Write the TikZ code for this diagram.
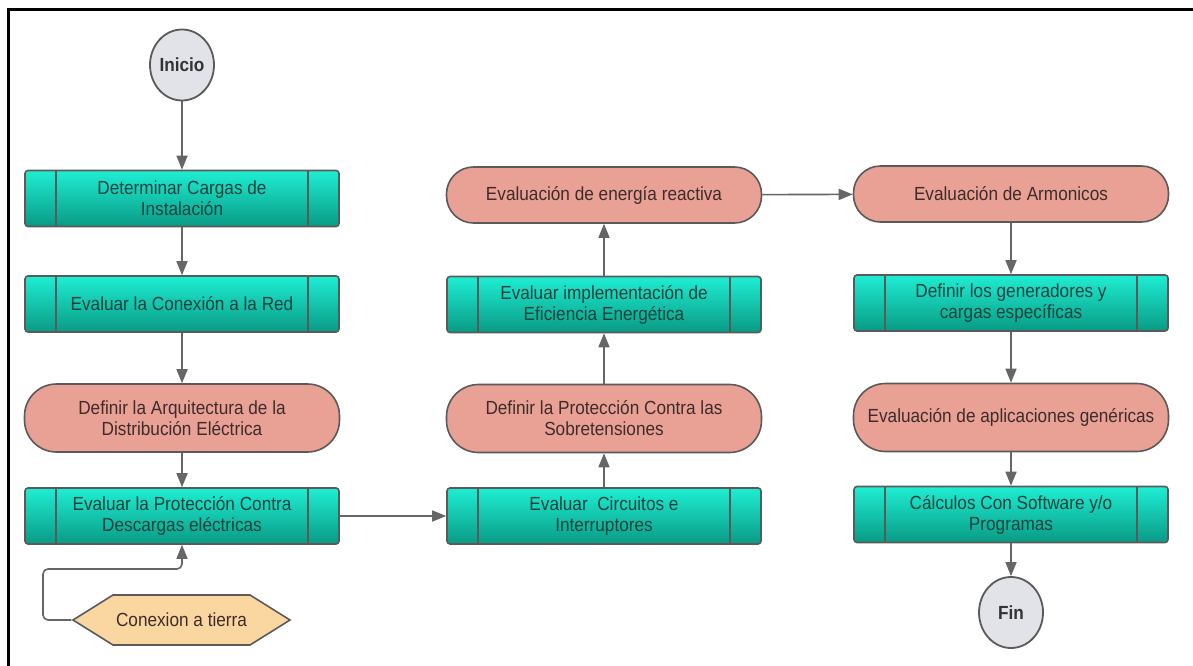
\documentclass[tikz,border=0pt]{standalone}
\usepackage{fontspec}
\setmainfont[FakeStretch=0.905]{Liberation Sans}
\usetikzlibrary{arrows.meta,shapes.geometric,shapes.symbols,calc}
\definecolor{bordercol}{HTML}{5A5A5A}
\definecolor{linecol}{HTML}{666666}
\definecolor{tealtop}{HTML}{1EEED3}
\definecolor{tealbot}{HTML}{099A84}
\definecolor{tealtext}{HTML}{16433E}
\definecolor{salmon}{HTML}{E9A196}
\definecolor{salmontext}{HTML}{3E2C2A}
\definecolor{hexfill}{HTML}{FAD6A0}
\definecolor{circfill}{HTML}{E1E3E9}
\tikzset{
  txt/.style={font=\fontsize{19}{21}\selectfont, align=center, inner sep=0pt},
  procbox/.style={txt, draw=bordercol, line width=1.6pt, rounded corners=3pt,
    top color=tealtop, bottom color=tealbot, text=tealtext,
    minimum width=314pt, minimum height=56pt,
    path picture={
      \draw[bordercol, line width=1.4pt]
        ([xshift=31pt]path picture bounding box.north west) -- ([xshift=31pt]path picture bounding box.south west)
        ([xshift=-31pt]path picture bounding box.north east) -- ([xshift=-31pt]path picture bounding box.south east);}},
  pilltall/.style={txt, draw=bordercol, line width=1.6pt, fill=salmon, text=salmontext,
    rounded corners=32pt, minimum width=315pt, minimum height=68pt},
  pillshort/.style={txt, draw=bordercol, line width=1.6pt, fill=salmon, text=salmontext,
    rounded corners=27pt, minimum width=315pt, minimum height=56pt},
  termcirc/.style={txt, ellipse, draw=bordercol, line width=1.8pt, fill=circfill,
    minimum width=64pt, minimum height=71pt, font=\fontsize{19}{21}\selectfont\bfseries, text=black!80},
  hexnode/.style={txt, shape=signal, signal to=west and east, signal pointer angle=64,
    draw=bordercol, line width=1.6pt, fill=hexfill, text=salmontext,
    minimum width=217pt, minimum height=50pt},
  conn/.style={draw=linecol, line width=1.6pt, -{Triangle[length=14pt,width=11pt]}},
}
\begin{document}
\begin{tikzpicture}[x=1pt,y=-1pt]
\useasboundingbox (0,0) rectangle (1193,666);
\fill[white] (0,0) rectangle (1193,666);
\draw[black, line width=3pt] (8,667) -- (8,10) -- (1194,10);

% column 1
\node[termcirc] (inicio) at (182,65) {Inicio};
\node[procbox] (b1) at (182,198.5) {Determinar Cargas de\\Instalación};
\node[procbox] (b2) at (182,304) {Evaluar la Conexión a la Red};
\node[pilltall] (p3) at (182,418) {Definir la Arquitectura de la\\Distribución Eléctrica};
\node[procbox] (b4) at (182,516) {Evaluar la Protección Contra\\Descargas eléctricas};
\node[hexnode] (hex) at (181.5,620) {Conexion a tierra};

% column 2
\node[procbox] (b5) at (604,516) {Evaluar\ \ Circuitos e\\Interruptores};
\node[pilltall] (p6) at (604,418.5) {Definir la Protección Contra las\\Sobretensiones};
\node[procbox] (b7) at (604,304.5) {Evaluar implementación de\\Eficiencia Energética};
\node[pillshort] (p8) at (604,195) {Evaluación de energía reactiva};

% column 3
\node[pillshort] (p9) at (1011,194) {Evaluación de Armonicos};
\node[procbox] (b10) at (1011,303) {Definir los generadores y\\cargas específicas};
\node[pilltall] (p11) at (1011,417.5) {Evaluación de aplicaciones genéricas};
\node[procbox] (b12) at (1011,514.5) {Cálculos Con Software y/o\\Programas};
\node[termcirc] (fin) at (1011,612.5) {Fin};

% connectors
\draw[conn] (inicio) -- (b1);
\draw[conn] (b1) -- (b2);
\draw[conn] (b2) -- (p3);
\draw[conn] (p3) -- (b4);
\draw[conn, rounded corners=5pt] (hex.west) -| (43,569) -| (b4.south);
\draw[conn] (b4) -- (b5);
\draw[conn] (b5) -- (p6);
\draw[conn] (p6) -- (b7);
\draw[conn] (b7) -- (p8);
\draw[conn] (p8) -- (p9);
\draw[conn] (p9) -- (b10);
\draw[conn] (b10) -- (p11);
\draw[conn] (p11) -- (b12);
\draw[conn] (b12) -- (fin);
\end{tikzpicture}
\end{document}
